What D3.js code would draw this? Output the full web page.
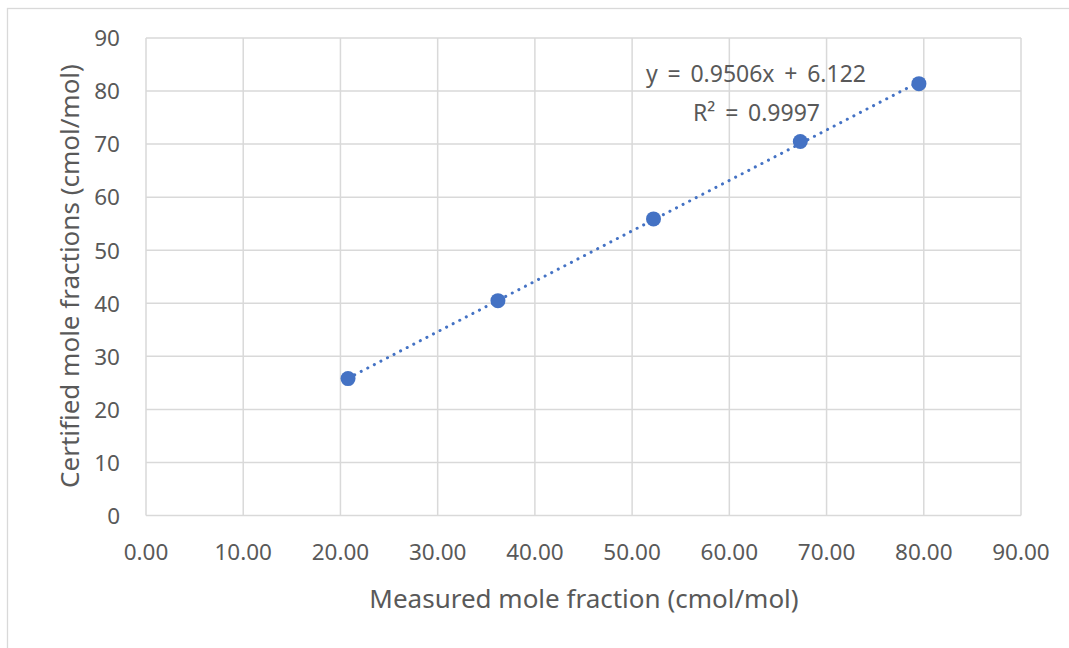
<!DOCTYPE html>
<html><head><meta charset="utf-8">
<script src="https://cdn.jsdelivr.net/npm/d3@7"></script>
<style>body{margin:0;background:#fff}svg{display:block}</style>
</head><body>
<script>
const measured = [20.78, 36.2, 52.2, 67.3, 79.5];
const certified = [25.8, 40.5, 55.9, 70.5, 81.4];
const xTicks = [0,10,20,30,40,50,60,70,80,90];
const yTicks = [0,10,20,30,40,50,60,70,80,90];
const slope = 0.9506, intercept = 6.122;
const eqText = "y = 0.9506x + 6.122";
const r2Text = "R² = 0.9997";
const xTitle = "Measured mole fraction (cmol/mol)";
const yTitle = "Certified mole fractions (cmol/mol)";

const W = 1069, H = 648;
const font = "'Noto Sans', 'Open Sans', sans-serif";
const svg = d3.select("body").append("svg").attr("width", W).attr("height", H);
svg.append("rect").attr("x",7.5).attr("y",8.5).attr("width",W+10).attr("height",H+10)
  .attr("fill","#fff").attr("stroke","#d9d9d9").attr("stroke-width",1.3);

const x = d3.scaleLinear().domain([0,90]).range([146,1021]);
const y = d3.scaleLinear().domain([0,90]).range([515.5,38]);
const grid = "#d9d9d9";

const g = svg.append("g");
g.selectAll("line.v").data(xTicks).join("line")
  .attr("x1",d=>x(d)).attr("x2",d=>x(d)).attr("y1",y(0)).attr("y2",y(90))
  .attr("stroke",grid).attr("stroke-width",1.5);
g.selectAll("line.h").data(yTicks).join("line")
  .attr("x1",x(0)).attr("x2",x(90)).attr("y1",d=>y(d)).attr("y2",d=>y(d))
  .attr("stroke",grid).attr("stroke-width",1.5);

// tick labels
g.selectAll("text.xt").data(xTicks).join("text")
  .attr("x",d=>x(d)).attr("y",560).attr("text-anchor","middle")
  .attr("font-family",font).attr("font-size",22.5).attr("fill","#595959")
  .text(d=>d3.format(".2f")(d));
g.selectAll("text.yt").data(yTicks).join("text")
  .attr("x",120).attr("y",d=>y(d)+8.3).attr("text-anchor","end")
  .attr("font-family",font).attr("font-size",22.5).attr("fill","#595959")
  .text(d=>d);

// titles
svg.append("text").attr("x",584).attr("y",608).attr("text-anchor","middle")
  .attr("font-family",font).attr("font-size",26).attr("fill","#595959").text(xTitle);
svg.append("text").attr("transform","translate(79,276) rotate(-90)").attr("text-anchor","middle")
  .attr("font-family",font).attr("font-size",26).attr("fill","#595959").text(yTitle);

// trendline
const x0 = d3.min(measured), x1 = d3.max(measured);
svg.append("line").attr("x1",x(x0)).attr("y1",y(slope*x0+intercept))
  .attr("x2",x(x1)).attr("y2",y(slope*x1+intercept))
  .attr("stroke","#4472c4").attr("stroke-width",3).attr("stroke-dasharray","0.1 7.3")
  .attr("stroke-linecap","round");

// points
svg.selectAll("circle").data(measured).join("circle")
  .attr("cx",(d)=>x(d)).attr("cy",(d,i)=>y(certified[i])).attr("r",7.5)
  .attr("fill","#4472c4");

// equation (widen word gaps to match target span)
function spacedText(txt, xPos, yPos, target) {
  const t = svg.append("text").attr("x",xPos).attr("y",yPos)
    .attr("font-family",font).attr("font-size",23).attr("fill","#595959").text(txt);
  const len = t.node().getComputedTextLength();
  const n = (txt.match(/ /g) || []).length;
  if (n > 0) t.attr("word-spacing", Math.max(0,(target - len)/n));
}
spacedText(eqText, 646, 81.5, 220);
spacedText(r2Text, 693, 121, 127);
</script>
</body></html>
